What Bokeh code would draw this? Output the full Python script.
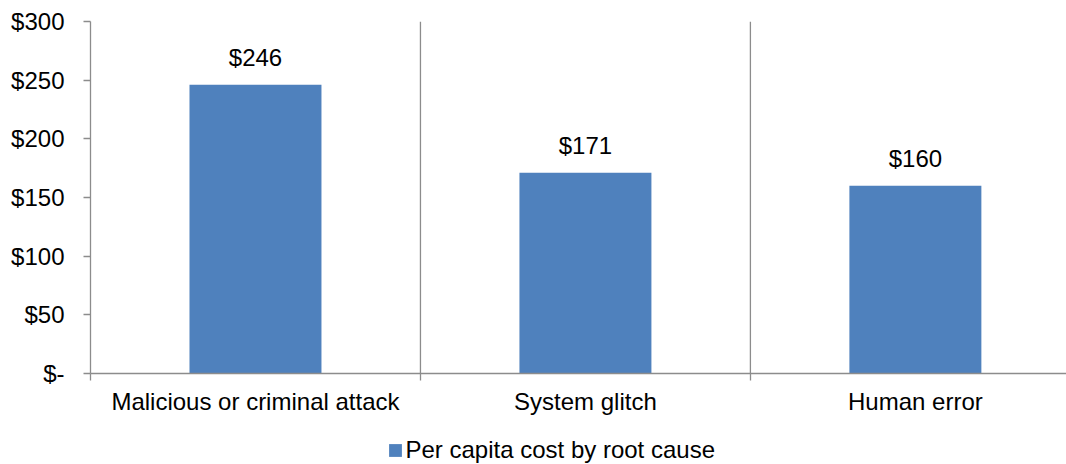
from bokeh.plotting import figure
from bokeh.models import (Range1d, FixedTicker, Span, Legend, LegendItem, ColumnDataSource)
from bokeh.layouts import column
from bokeh.core.properties import value
from bokeh.embed import file_html
from bokeh.resources import INLINE

categories = ["Malicious or criminal attack", "System glitch", "Human error"]
costs = [246, 171, 160]
series_name = "Per capita cost by root cause"
y_ticks = [0, 50, 100, 150, 200, 250, 300]
y_tick_labels = ["$-", "$50", "$100", "$150", "$200", "$250", "$300"]

FONT = "Liberation Sans"
FS = "24px"
GRAY = "#8c8c8c"
BLUE = "#4F81BD"

n = len(categories)
xs = [i + 0.5 for i in range(n)]

p = figure(width=1066, height=420, output_backend="svg", toolbar_location=None,
           x_range=Range1d(0, 2.958), y_range=Range1d(0, 300),
           min_border_left=90, min_border_right=0, min_border_top=21, min_border_bottom=47)
p.outline_line_color = None
p.xgrid.visible = False
p.ygrid.visible = False

src = ColumnDataSource(dict(x=xs, top=costs, label=[f"${v}" for v in costs]))
bars = p.vbar(x="x", top="top", width=0.4, source=src, fill_color=BLUE, line_color=None)
p.text(x="x", y="top", text="label", source=src, text_align="center",
       text_baseline="alphabetic", y_offset=-27, text_font=value(FONT),
       text_font_size=FS, text_color="#000000")

for b in range(1, n):
    p.add_layout(Span(location=b, dimension="height", line_color=GRAY, line_width=1.3))

# x axis
xa = p.xaxis[0]
xa.ticker = FixedTicker(ticks=xs, minor_ticks=list(range(0, n + 1)))
xa.major_label_overrides = {x: c for x, c in zip(xs, categories)}
xa.major_tick_out = 0
xa.major_tick_in = 0
xa.minor_tick_out = 7
xa.minor_tick_in = 0
xa.minor_tick_line_color = GRAY
xa.minor_tick_line_width = 1.3
xa.axis_line_color = GRAY
xa.axis_line_width = 1.3
xa.major_label_text_font = FONT
xa.major_label_text_font_size = FS
xa.major_label_text_color = "#000000"
xa.major_label_standoff = 7

# y axis
ya = p.yaxis[0]
ya.ticker = FixedTicker(ticks=y_ticks, minor_ticks=[])
ya.major_label_overrides = {t: l for t, l in zip(y_ticks, y_tick_labels)}
ya.major_tick_out = 7
ya.major_tick_in = 0
ya.major_tick_line_color = GRAY
ya.major_tick_line_width = 1.3
ya.axis_line_color = GRAY
ya.axis_line_width = 1.3
ya.major_label_text_font = FONT
ya.major_label_text_font_size = FS
ya.major_label_text_color = "#000000"
ya.major_label_standoff = 19

# legend strip (its frame is aligned with the main plot's frame)
lg = figure(width=1066, height=44, output_backend="svg", toolbar_location=None,
            x_range=Range1d(0, 1), y_range=Range1d(0, 1),
            x_axis_type=None, y_axis_type=None,
            min_border=0, min_border_left=0, min_border_right=0,
            min_border_top=0, min_border_bottom=0)
lg.outline_line_color = None
lg.grid.visible = False
# legend key renderer: one off-range bar so the legend swatch gets drawn
key = lg.vbar(x=[-1], top=[0], width=0.1, fill_color=BLUE, line_color=None)
legend = Legend(items=[LegendItem(label=series_name, renderers=[key])],
                location=(296.5, 0), orientation="horizontal",
                glyph_width=16, glyph_height=16, label_standoff=3,
                padding=0, margin=0, border_line_color=None, background_fill_alpha=0,
                label_text_font=FONT, label_text_font_size=FS, label_text_color="#000000")
lg.add_layout(legend, "center")

open("out.html", "w").write(file_html(column(p, lg, spacing=0), INLINE))
